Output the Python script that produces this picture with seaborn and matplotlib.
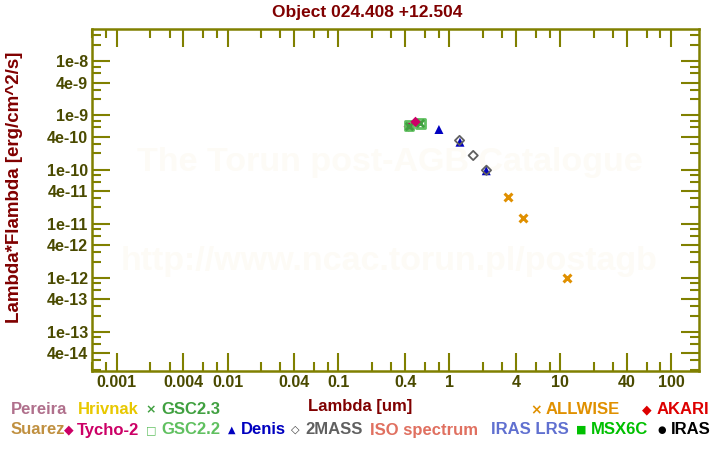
import matplotlib
matplotlib.use("Agg")
import matplotlib.pyplot as plt
import seaborn as sns
import pandas as pd
from matplotlib.ticker import FixedLocator, FixedFormatter, NullFormatter

# ---- data ----
wl_tycho = [0.43, 0.495]
f_tycho = [6.2e-10, 7.6e-10]
wl_gsc22 = [0.434, 0.547]
f_gsc22 = [6.5e-10, 7.1e-10]
wl_gsc23 = [0.434, 0.547]
f_gsc23 = [6.5e-10, 7.1e-10]
wl_denis = [0.805, 1.246, 2.15]
f_denis = [5.5e-10, 3.2e-10, 9.5e-11]
wl_2mass = [1.235, 1.64, 2.16]
f_2mass = [3.45e-10, 1.82e-10, 9.7e-11]
wl_allwise = [3.35, 4.6, 11.6]
f_allwise = [3.16e-11, 1.29e-11, 1.01e-12]

xmajor = [0.001, 0.004, 0.01, 0.04, 0.1, 0.4, 1, 4, 10, 40, 100]
xmajor_labels = ["0.001", "0.004", "0.01", "0.04", "0.1", "0.4", "1", "4", "10", "40", "100"]
ymajor = [1e-8, 4e-9, 1e-9, 4e-10, 1e-10, 4e-11, 1e-11, 4e-12, 1e-12, 4e-13, 1e-13, 4e-14]
ymajor_labels = ["1e-8", "4e-9", "1e-9", "4e-10", "1e-10", "4e-11", "1e-11", "4e-12",
                 "1e-12", "4e-13", "1e-13", "4e-14"]

title = "Object 024.408 +12.504"
xlabel = "Lambda [um]"
ylabel = "Lambda*Flambda [erg/cm^2/s]"

sns.set_style("white")
FONT = ["Liberation Sans", "DejaVu Sans"]
plt.rcParams["font.family"] = FONT

W, H = 720, 450
fig = plt.figure(figsize=(7.2, 4.5), dpi=100)
ax = fig.add_axes([92 / W, 1 - 371 / H, (699 - 92) / W, (371 - 29) / H])

OLIVE = "#808000"
LABC = "#4a4a00"
DRED = "#800000"

# watermark
ax.text(0.49, 0.61, "The Torun post-AGB Catalogue", transform=ax.transAxes,
        ha="center", va="center", fontsize=24.5, fontweight="bold",
        color="#fdfbf6", zorder=0)
ax.text(0.49, 0.32, "http://www.ncac.torun.pl/postagb", transform=ax.transAxes,
        ha="center", va="center", fontsize=24.5, fontweight="bold",
        color="#fdfbf6", zorder=0)

def scat(x, y, marker, color, size, z=3, **kw):
    df = pd.DataFrame({"x": x, "y": y})
    sns.scatterplot(data=df, x="x", y="y", ax=ax, marker=marker, color=color,
                    s=size, zorder=z, legend=False, **kw)

scat(wl_tycho[:1], f_tycho[:1], "D", "#cc0066", 28, z=2, edgecolor="none")
scat(wl_gsc22, f_gsc22, "s", "none", 38, edgecolor="#60c060", linewidth=2)
scat(wl_gsc23, f_gsc23, "x", "#40a040", 28, linewidth=2)
scat(wl_tycho[1:], f_tycho[1:], "D", "#cc0066", 28, z=4, edgecolor="none")
scat(wl_denis, f_denis, "^", "#0000c0", 42, edgecolor="none")
scat(wl_2mass, f_2mass, "D", "none", 22, edgecolor="#606060", linewidth=1.3)
scat(wl_allwise, f_allwise, "x", "#e09000", 32, linewidth=2.2)

ax.set_xscale("log")
ax.set_yscale("log")
ax.set_xlim(0.0006, 178)
ax.set_ylim(1.9e-14, 3.95e-8)

ax.xaxis.set_major_locator(FixedLocator(xmajor))
ax.xaxis.set_major_formatter(FixedFormatter(xmajor_labels))
xminor = []
for d in [1e-4, 1e-3, 1e-2, 1e-1, 1, 10, 100]:
    for m in [2, 3, 6, 8]:
        xminor.append(m * d)
ax.xaxis.set_minor_locator(FixedLocator(xminor))
ax.xaxis.set_minor_formatter(NullFormatter())

ax.yaxis.set_major_locator(FixedLocator(ymajor))
ax.yaxis.set_major_formatter(FixedFormatter(ymajor_labels))
yminor = []
for d in [1e-15, 1e-14, 1e-13, 1e-12, 1e-11, 1e-10, 1e-9, 1e-8]:
    for m in [2, 3, 6, 8]:
        yminor.append(m * d)
ax.yaxis.set_minor_locator(FixedLocator(yminor))
ax.yaxis.set_minor_formatter(NullFormatter())

ax.tick_params(which="both", direction="in", top=True, right=True, bottom=True, left=True,
               color=OLIVE, width=1.5)
ax.tick_params(which="major", length=13, pad=3, labelsize=11.5, labelcolor=LABC)
ax.tick_params(which="minor", length=6.5)
for lab in ax.get_xticklabels() + ax.get_yticklabels():
    lab.set_fontweight("bold")
for sp in ax.spines.values():
    sp.set_color(OLIVE)
    sp.set_linewidth(1.8)
ax.grid(False)

ax.set_xlabel(xlabel, fontsize=12, fontweight="bold", color=DRED)
ax.xaxis.set_label_coords((360 - 92) / 607, (371 - 406) / 342)
ax.xaxis.label.set_va("center")
ax.set_ylabel(ylabel, fontsize=13.5, fontweight="bold", color=DRED)
ax.yaxis.set_label_coords((15 - 92) / 607, (371 - 187) / 342)
ax.yaxis.label.set_va("center")

fig.text(367 / W, 1 - 12 / H, title, ha="center", va="center", fontsize=12.5,
         fontweight="bold", color=DRED)

# legend texts (figure pixel coords)
def ftxt(x, y, s, color, size=12, ha="left", family=FONT):
    fig.text(x / W, 1 - y / H, s, ha=ha, va="center", fontsize=size,
             fontweight="bold", color=color, family=family)

SYM = ["DejaVu Sans"]
r1, r2 = 410, 430
ftxt(11, r1, "Pereira", "#b0708c")
ftxt(78, r1, "Hrivnak", "#e8c800")
ftxt(151, r1, "×", "#40a040", size=9, ha="center", family=SYM)
ftxt(161, r1, "GSC2.3", "#40a040")
ftxt(536, r1, "×", "#e09000", size=10, ha="center", family=SYM)
ftxt(546, r1, "ALLWISE", "#e09000")
ftxt(647, r1, "◆", "#dd0000", size=9, ha="center", family=SYM)
ftxt(657, r1, "AKARI", "#dd0000")

ftxt(11, r2, "Suarez", "#c09040")
ftxt(69, r2, "◆", "#cc0066", size=9, ha="center", family=SYM)
ftxt(77, r2, "Tycho-2", "#cc0066")
ftxt(151, r2, "□", "#60c060", size=8, ha="center", family=SYM)
ftxt(161, r2, "GSC2.2", "#60c060")
ftxt(232, r2, "▲", "#0000c0", size=7, ha="center", family=SYM)
ftxt(241, r2, "Denis", "#0000c0")
ftxt(295, r2, "◇", "#404040", size=8, ha="center", family=SYM)
ftxt(305, r2, "2MASS", "#606060")
ftxt(370, r2, "ISO spectrum", "#e07060")
ftxt(491, r2, "IRAS LRS", "#6070d0")
ftxt(581, r2, "■", "#00c000", size=8, ha="center", family=SYM)
ftxt(591, r2, "MSX6C", "#00c000")
ftxt(662, r2, "●", "#000000", size=7, ha="center", family=SYM)
ftxt(671, r2, "IRAS", "#000000")

fig.savefig("out.png", dpi=100, facecolor="white")
